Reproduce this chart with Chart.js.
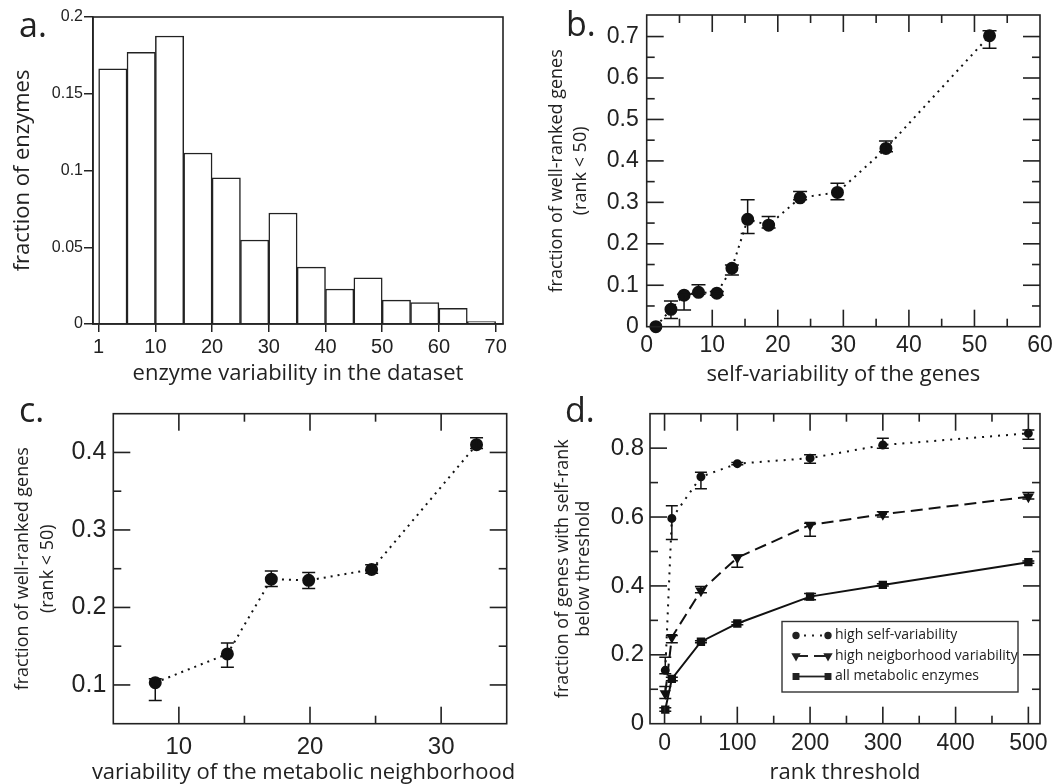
<!DOCTYPE html>
<html>
<head>
<meta charset="utf-8">
<script src="https://cdn.jsdelivr.net/npm/chart.js@4.4.1/dist/chart.umd.min.js"></script>
<style>
   body { margin: 0; background: #fff; width: 1061px; height: 784px; position: relative; overflow: hidden; }
   .panel { position: absolute; }
   .lbl { position: absolute; font-family: 'Open Sans'; font-size: 34px; line-height: 1; color: #222; }
   .xt { position: absolute; font-family: 'Open Sans'; font-size: 22px; line-height: 24px; color: #222; text-align: center; white-space: nowrap; }
</style>
</head>
<body>
<div class="panel" style="left:0;top:0"><canvas id="chartA" width="530" height="392"></canvas></div>
<div class="panel" style="left:530px;top:0"><canvas id="chartB" width="531" height="392"></canvas></div>
<div class="panel" style="left:0;top:392px"><canvas id="chartC" width="530" height="392"></canvas></div>
<div class="panel" style="left:530px;top:392px"><canvas id="chartD" width="531" height="392"></canvas></div>
<div class="lbl" style="left:19px;top:7px">a.</div>
<div class="lbl" style="left:566px;top:6px">b.</div>
<div class="lbl" style="left:19px;top:392px">c.</div>
<div class="lbl" style="left:565px;top:392px">d.</div>
<div class="xt" style="left:0;width:607px;top:758px">variability of the metabolic neighborhood</div>
<script>
// a. histogram of enzyme variability
const binStart = [0, 5, 10, 15, 20, 25, 30, 35, 40, 45, 50, 55, 60, 65];
const binWidth = 5;
const enzymeFraction = [0.1663, 0.177, 0.1876, 0.1114, 0.0953, 0.0547, 0.0723, 0.0371, 0.0228, 0.030, 0.0156, 0.0139, 0.0102, 0.0015];
const aXTicks = [0, 10, 20, 30, 40, 50, 60, 70];
const aXLabels = ['1', '10', '20', '30', '40', '50', '60', '70'];
const aYTicks = [0, 0.05, 0.1, 0.15, 0.2];

// b. self-variability
const selfVar = [1.4, 3.7, 5.7, 7.9, 10.7, 13.0, 15.4, 18.6, 23.4, 29.1, 36.5, 52.3];
const selfFrac = [0, 0.042, 0.076, 0.083, 0.081, 0.141, 0.259, 0.245, 0.311, 0.324, 0.430, 0.702];
const selfFracLow = [0, 0.020, 0.040, 0.078, 0.076, 0.125, 0.225, 0.238, 0.306, 0.306, 0.422, 0.672];
const selfFracHigh = [0, 0.062, 0.078, 0.101, 0.085, 0.149, 0.306, 0.266, 0.326, 0.346, 0.448, 0.714];
const bXTicks = [0, 10, 20, 30, 40, 50, 60];
const bYTicks = [0, 0.1, 0.2, 0.3, 0.4, 0.5, 0.6, 0.7];

// c. neighborhood variability
const neighVar = [8.2, 13.7, 17.05, 19.9, 24.7, 32.7];
const neighFrac = [0.103, 0.140, 0.2365, 0.235, 0.249, 0.410];
const neighFracLow = [0.080, 0.123, 0.227, 0.2245, 0.244, 0.405];
const neighFracHigh = [0.108, 0.154, 0.247, 0.245, 0.255, 0.419];
const cXTicks = [10, 20, 30];
const cYTicks = [0.1, 0.2, 0.3, 0.4];

// d. rank threshold curves
const rankThreshold = [1, 10, 50, 100, 200, 300, 500];
const highSelf = [0.155, 0.596, 0.717, 0.755, 0.771, 0.809, 0.843];
const highSelfLow = [0.145, 0.535, 0.682, 0.752, 0.756, 0.800, 0.826];
const highSelfHigh = [0.193, 0.633, 0.730, 0.758, 0.781, 0.829, 0.853];
const highNeigh = [0.088, 0.251, 0.386, 0.482, 0.577, 0.608, 0.659];
const highNeighLow = [0.073, 0.235, 0.380, 0.454, 0.544, 0.600, 0.652];
const highNeighHigh = [0.108, 0.256, 0.398, 0.490, 0.582, 0.615, 0.671];
const allEnz = [0.041, 0.130, 0.238, 0.291, 0.369, 0.403, 0.469];
const allEnzLow = [0.036, 0.125, 0.235, 0.287, 0.360, 0.400, 0.466];
const allEnzHigh = [0.046, 0.135, 0.241, 0.295, 0.378, 0.406, 0.472];
const dXTicks = [0, 100, 200, 300, 400, 500];
const dYTicks = [0, 0.2, 0.4, 0.6, 0.8];
const dLabels = ['high self-variability', 'high neigborhood variability', 'all metabolic enzymes'];

Chart.defaults.font.family = 'Liberation Sans';
Chart.defaults.color = '#222';
Chart.defaults.animation = false;

const INK = '#222';
const fmt = v => String(+v.toFixed(2));
const pts = (xs, ys) => xs.map((x, i) => ({x: x, y: ys[i]}));

// tick-mark runs per canvas: [from, to, minor step, major step]
const frameCfg = {
   chartA: null,  // plain frame, ticks come from the axes
   chartB: {x: [0, 60, 5, 10], y: [0, 0.75, 0.05, 0.1]},
   chartC: {x: [5, 35, 5, 10], y: [0.05, 0.45, 0.05, 0.1]},
   chartD: {x: [0, 500, 50, 100], y: [0, 0.9, 0.1, 0.2]}
};
const capWidth = {chartB: 7, chartC: 6.5, chartD: 6};
const legendCfg = {
   chartD: {box: {x: 252, y: 229.5, w: 236, h: 70.5}, rowTop: 14, rowGap: 20.5, sx0: 266, sx1: 298, tx: 305}
};

function tickRun(r) {
   const out = [];
   const n = Math.round((r[1] - r[0]) / r[2]);
   for (let k = 0; k <= n; k++) {
      const v = r[0] + k * r[2];
      const q = v / r[3];
      out.push({v: v, major: Math.abs(q - Math.round(q)) < 1e-6});
   }
   return out;
}

// frame round the plot, with inward major/minor ticks on all four sides
Chart.register({
   id: 'frameTicks',
   afterDraw(chart) {
      const cfg = frameCfg[chart.canvas.id];
      const area = chart.chartArea;
      const {left, right, top, bottom} = area;
      const ctx = chart.ctx;
      ctx.save();
      ctx.setLineDash([]);
      ctx.strokeStyle = INK;
      ctx.fillStyle = INK;
      ctx.lineWidth = 1.6;
      ctx.strokeRect(left, top, right - left, bottom - top);
      if (cfg) {
         const xs = chart.scales.x, ys = chart.scales.y;
         tickRun(cfg.x).forEach(t => {
            const px = xs.getPixelForValue(t.v);
            if (!(px > left + 1 && px < right - 1)) return;
            const len = t.major ? 17 : 8;
            ctx.fillRect(px - 0.8, bottom - len, 1.6, len);
            ctx.fillRect(px - 0.8, top, 1.6, len);
         });
         tickRun(cfg.y).forEach(t => {
            const py = ys.getPixelForValue(t.v);
            if (!(py > top + 1 && py < bottom - 1)) return;
            const len = t.major ? 17 : 8;
            ctx.fillRect(left, py - 0.8, len, 1.6);
            ctx.fillRect(right - len, py - 0.8, len, 1.6);
         });
      }
      ctx.restore();
   }
});

// vertical error bars from errLow / errHigh on each dataset
Chart.register({
   id: 'errorBars',
   afterDatasetsDraw(chart) {
      const cap = capWidth[chart.canvas.id];
      if (!cap) return;
      const ctx = chart.ctx;
      const xs = chart.scales.x, ys = chart.scales.y;
      ctx.save();
      ctx.setLineDash([]);
      ctx.strokeStyle = '#111';
      ctx.lineWidth = 1.5;
      chart.data.datasets.forEach(ds => {
         if (!ds.errLow) return;
         ds.data.forEach((p, j) => {
            const px = xs.getPixelForValue(p.x);
            const yl = ys.getPixelForValue(ds.errLow[j]);
            const yh = ys.getPixelForValue(ds.errHigh[j]);
            if (Math.abs(yl - yh) < 0.5) return;
            ctx.beginPath();
            ctx.moveTo(px, yl); ctx.lineTo(px, yh);
            ctx.moveTo(px - cap, yl); ctx.lineTo(px + cap, yl);
            ctx.moveTo(px - cap, yh); ctx.lineTo(px + cap, yh);
            ctx.stroke();
         });
      });
      ctx.restore();
   }
});

// boxed legend inside panel d
Chart.register({
   id: 'boxLegend',
   afterDraw(chart) {
      const o = legendCfg[chart.canvas.id];
      if (!o) return;
      const ctx = chart.ctx;
      const b = o.box;
      ctx.save();
      ctx.setLineDash([]);
      ctx.strokeStyle = '#333';
      ctx.lineWidth = 1.4;
      ctx.strokeRect(b.x, b.y, b.w, b.h);
      ctx.font = '14px "Open Sans"';
      ctx.textBaseline = 'middle';
      ctx.fillStyle = INK;
      chart.data.datasets.forEach((ds, i) => {
         const yy = b.y + o.rowTop + i * o.rowGap;
         ctx.strokeStyle = INK;
         ctx.lineWidth = 1.8;
         ctx.setLineDash(ds.borderDash || []);
         ctx.beginPath();
         ctx.moveTo(o.sx0, yy); ctx.lineTo(o.sx1, yy);
         ctx.stroke();
         ctx.setLineDash([]);
         [o.sx0, o.sx1].forEach(px => {
            Chart.helpers.drawPoint(ctx, {pointStyle: ds.pointStyle, rotation: ds.rotation || 0, radius: ds.pointRadius * 0.8, borderWidth: 1}, px, yy);
         });
         ctx.fillText(ds.label, o.tx, yy);
      });
      ctx.restore();
   }
});

// fixed axis box sizes so the plot areas land where the figure has them
const fixX = h => s => { s.height = h; s.paddingLeft = 0; s.paddingRight = 0; };
const fixY = w => s => { s.width = w; s.paddingTop = 0; s.paddingBottom = 0; };

function boxAxes(xCfg, yCfg) {
   // inward-tick style axes (b, c, d): the frame plugin draws the ticks
   return {
      x: {
         type: 'linear', min: xCfg.min, max: xCfg.max, offset: false,
         grid: {display: false, drawTicks: false}, border: {display: false},
         afterBuildTicks: s => { s.ticks = xCfg.ticks.map(v => ({value: v})); },
         afterFit: fixX(xCfg.height),
         ticks: {font: {size: xCfg.font}, padding: xCfg.pad, autoSkip: false, maxRotation: 0, callback: fmt},
         title: {display: !!xCfg.title, text: xCfg.title, font: {family: 'Open Sans', size: 22, lineHeight: xCfg.lh}, padding: {top: 0, bottom: xCfg.tpad}}
      },
      y: {
         type: 'linear', min: yCfg.min, max: yCfg.max,
         grid: {display: false, drawTicks: false}, border: {display: false},
         afterBuildTicks: s => { s.ticks = yCfg.ticks.map(v => ({value: v})); },
         afterFit: fixY(yCfg.width),
         ticks: {font: {size: yCfg.font}, padding: yCfg.pad, callback: fmt},
         title: {display: true, text: yCfg.title, font: {family: 'Open Sans', size: 18, lineHeight: yCfg.lh}, padding: {top: yCfg.tpad, bottom: 0}}
      }
   };
}

const quiet = {legend: {display: false}, tooltip: {enabled: false}};

// ---- a ----
new Chart(document.getElementById('chartA'), {
   type: 'bar',
   data: {
      datasets: [{
         data: pts(binStart.map(s => s + binWidth / 2), enzymeFraction),
         backgroundColor: '#fff', borderColor: INK, borderWidth: 1.5,
         barPercentage: 1, categoryPercentage: 1
      }]
   },
   options: {
      responsive: false,
      layout: {padding: {top: 17, right: 27, left: 0, bottom: 0}},
      scales: {
         x: {
            type: 'linear', min: -1, max: 71.3, offset: false,
            grid: {display: true, offset: false, drawOnChartArea: false, drawTicks: true, tickLength: 8, color: INK, lineWidth: 1.5},
            border: {display: true, color: INK, width: 1.5},
            afterBuildTicks: s => { s.ticks = aXTicks.map(v => ({value: v})); },
            afterFit: fixX(68),
            ticks: {font: {size: 20}, padding: 3, autoSkip: false, maxRotation: 0,
                    callback: v => aXLabels[aXTicks.indexOf(v)]},
            title: {display: true, text: 'enzyme variability in the dataset', font: {family: 'Open Sans', size: 22, lineHeight: 1.2}, padding: {top: 0, bottom: 5}}
         },
         y: {
            type: 'linear', min: 0, max: 0.2,
            grid: {display: true, drawOnChartArea: false, drawTicks: true, tickLength: 9, color: INK, lineWidth: 1.5},
            border: {display: true, color: INK, width: 1.5},
            afterBuildTicks: s => { s.ticks = aYTicks.map(v => ({value: v})); },
            afterFit: fixY(93),
            ticks: {font: {size: 16}, padding: 1, callback: fmt},
            title: {display: true, text: 'fraction of enzymes', font: {family: 'Open Sans', size: 22, lineHeight: 1.2}, padding: {top: 10, bottom: 0}}
         }
      },
      plugins: quiet
   }
});

// ---- b ----
new Chart(document.getElementById('chartB'), {
   type: 'scatter',
   data: {
      datasets: [{
         data: pts(selfVar, selfFrac), errLow: selfFracLow, errHigh: selfFracHigh,
         showLine: true, borderColor: '#111', borderWidth: 2, borderDash: [2, 5],
         pointRadius: 5.5, pointBackgroundColor: '#111', pointBorderColor: '#111', clip: false
      }]
   },
   options: {
      responsive: false,
      layout: {padding: {top: 15, right: 21, left: 0, bottom: 0}},
      scales: boxAxes(
         {min: 0, max: 60, ticks: bXTicks, height: 65.3, font: 23, pad: 5, title: 'self-variability of the genes', lh: 1.2, tpad: 4},
         {min: 0, max: 0.752, ticks: bYTicks, width: 116.7, font: 23, pad: 8, title: ['fraction of well-ranked genes', '(rank < 50)'], lh: 1.33, tpad: 15}
      ),
      plugins: quiet
   }
});

// ---- c ----
new Chart(document.getElementById('chartC'), {
   type: 'scatter',
   data: {
      datasets: [{
         data: pts(neighVar, neighFrac), errLow: neighFracLow, errHigh: neighFracHigh,
         showLine: true, borderColor: '#111', borderWidth: 2, borderDash: [2, 5],
         pointRadius: 5.5, pointBackgroundColor: '#111', pointBorderColor: '#111', clip: false
      }]
   },
   options: {
      responsive: false,
      layout: {padding: {top: 21.7, right: 23.3, left: 0, bottom: 0}},
      scales: boxAxes(
         // x title is wider than the plot here, so it sits in the page as text (.xt)
         {min: 5, max: 35, ticks: cXTicks, height: 60.3, font: 24, pad: 9, title: '', lh: 1, tpad: 0},
         {min: 0.05, max: 0.45, ticks: cYTicks, width: 113.3, font: 25, pad: 7, title: ['fraction of well-ranked genes', '(rank < 50)'], lh: 1.4, tpad: 10}
      ),
      plugins: quiet
   }
});

// ---- d ----
new Chart(document.getElementById('chartD'), {
   type: 'scatter',
   data: {
      datasets: [
         {label: dLabels[0], data: pts(rankThreshold, highSelf), errLow: highSelfLow, errHigh: highSelfHigh,
          showLine: true, borderColor: '#111', borderWidth: 2, borderDash: [2, 6],
          pointStyle: 'circle', pointRadius: 3.5, pointBackgroundColor: '#111', pointBorderColor: '#111', clip: false},
         {label: dLabels[1], data: pts(rankThreshold, highNeigh), errLow: highNeighLow, errHigh: highNeighHigh,
          showLine: true, borderColor: '#111', borderWidth: 2, borderDash: [12, 6],
          pointStyle: 'triangle', rotation: 180, pointRadius: 4.5, pointBackgroundColor: '#111', pointBorderColor: '#111', clip: false},
         {label: dLabels[2], data: pts(rankThreshold, allEnz), errLow: allEnzLow, errHigh: allEnzHigh,
          showLine: true, borderColor: '#111', borderWidth: 2,
          pointStyle: 'rect', pointRadius: 4.5, pointBackgroundColor: '#111', pointBorderColor: '#111', clip: false}
      ]
   },
   options: {
      responsive: false,
      layout: {padding: {top: 21.7, right: 21, left: 0, bottom: 0}},
      scales: boxAxes(
         {min: -20, max: 516, ticks: dXTicks, height: 60.3, font: 23, pad: 6, title: 'rank threshold', lh: 1, tpad: 0.5},
         {min: 0, max: 0.9, ticks: dYTicks, width: 120, font: 24, pad: 6, title: ['fraction of genes with self-rank', 'below threshold'], lh: 1.18, tpad: 22}
      ),
      plugins: quiet
   }
});
</script>
</body>
</html>
